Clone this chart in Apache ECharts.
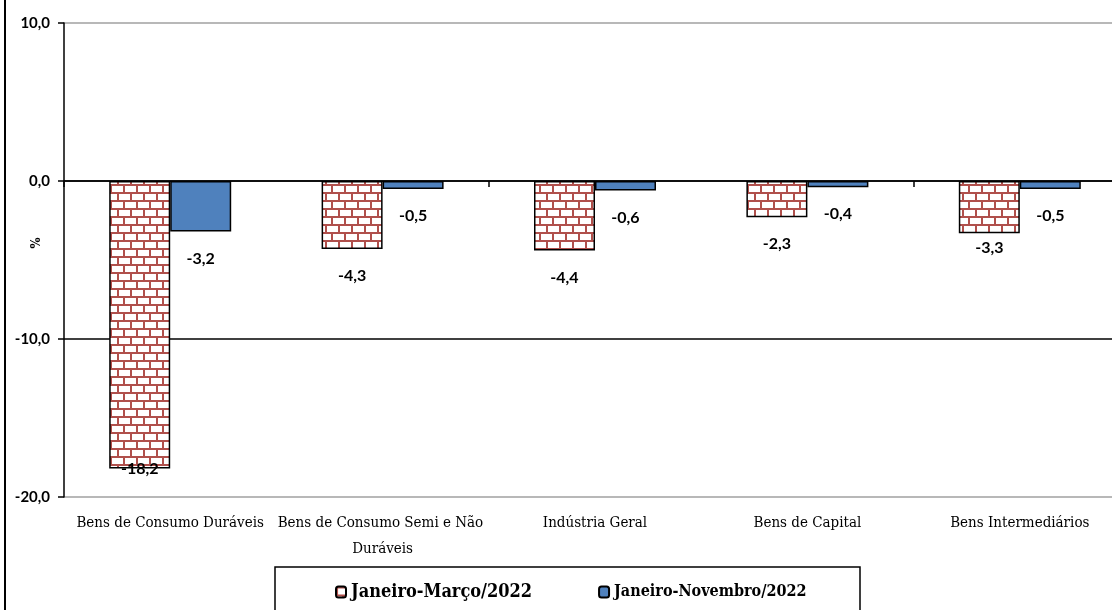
<!DOCTYPE html>
<html>
<head>
<meta charset="utf-8">
<script src="https://cdn.jsdelivr.net/npm/echarts@6/dist/echarts.min.js"></script>
<style>
html,body{margin:0;padding:0;background:#fff;}
#c{width:1112px;height:610px;}
</style>
</head>
<body>
<div id="c"></div>
<script>
// ---- data ----
const categories = ['Bens de Consumo Duráveis', 'Bens de Consumo Semi e Não Duráveis', 'Indústria Geral', 'Bens de Capital', 'Bens Intermediários'];
const seriesNames = ['Janeiro-Março/2022', 'Janeiro-Novembro/2022'];
const janMar = [-18.2, -4.3, -4.4, -2.3, -3.3];
const janNov = [-3.2, -0.5, -0.6, -0.4, -0.5];
const yMin = -20, yMax = 10, yStep = 10;
const yAxisName = '%';

// label vertical nudges (layout only)
const janMarLabelDy = [-27, 0, 0, 0, -12];
const janNovLabelDy = [0, 0, 0, 0, 0];

// brick pattern
function brickPattern() {
  const w = 26, h = 16;
  const cv = document.createElement('canvas');
  cv.width = w; cv.height = h;
  const ctx = cv.getContext('2d');
  ctx.fillStyle = '#ffffff';
  ctx.fillRect(0, 0, w, h);
  ctx.fillStyle = '#b0504c';
  ctx.fillRect(0, 0, w, 2);
  ctx.fillRect(0, 8, w, 2);
  ctx.fillRect(0, 0, 2, 8);
  ctx.fillRect(13, 0, 2, 8);
  ctx.fillRect(6, 8, 2, 8);
  ctx.fillRect(19, 8, 2, 8);
  return cv;
}

const labelFont = 'Lato, "Open Sans", sans-serif';
const catFont = '"DejaVu Serif Condensed", "DejaVu Serif", serif';
const fmt = p => String(p.value.toFixed ? p.value.toFixed(1) : p.value).replace('.', ',');

const chart = echarts.init(document.getElementById('c'), null, {renderer: 'canvas'});
chart.setOption({
  backgroundColor: '#ffffff',
  animation: false,
  grid: {left: 64, top: 23, width: 1062, height: 474, containLabel: false, outerBoundsMode: 'none'},
  legend: {
    data: seriesNames,
    left: 330, top: 578,
    itemWidth: 10, itemHeight: 11, itemGap: 66,
    formatter: n => (n === seriesNames[0] ? '{a|' + n + '}' : '{b|' + n + '}'),
    textStyle: {
      rich: {
        a: {fontFamily: catFont, fontWeight: 'bold', fontSize: 18, color: '#000'},
        b: {fontFamily: catFont, fontWeight: 'bold', fontSize: 16, color: '#000'}
      }
    }
  },
  xAxis: [
    {
      type: 'category', data: categories,
      axisLine: {onZero: true, lineStyle: {color: '#000', width: 1.5}},
      axisTick: {show: true, length: 6, lineStyle: {color: '#000', width: 1.5}},
      axisLabel: {show: false},
      splitLine: {show: false}
    },
    {
      type: 'category', data: categories, position: 'bottom',
      axisLine: {show: false, onZero: false},
      axisTick: {show: false},
      axisLabel: {
        show: true, interval: 0, margin: 13,
        fontFamily: catFont, fontSize: 15, color: '#000', lineHeight: 26,
        width: 226, overflow: 'break'
      },
      splitLine: {show: false}
    }
  ],
  yAxis: {
    type: 'value', min: yMin, max: yMax, interval: yStep,
    axisLine: {show: true, lineStyle: {color: '#000', width: 1.5}},
    axisTick: {show: true, length: 6, lineStyle: {color: '#000', width: 1.5}},
    axisLabel: {
      margin: 14, fontFamily: labelFont, fontWeight: 'bold', fontSize: 15, color: '#000',
      formatter: v => v.toFixed(1).replace('.', ',')
    },
    splitLine: {show: true, lineStyle: {color: ['#a0a0a0', '#000', '#000', '#a0a0a0'], width: 1.5}}
  },
  series: [
    {
      name: seriesNames[0], type: 'bar', xAxisIndex: 0,
      barWidth: 61, barGap: '0%',
      data: janMar.map((v, i) => ({value: v, label: {offset: [0, janMarLabelDy[i]]}})),
      itemStyle: {color: {image: brickPattern(), repeat: 'repeat'}, borderColor: '#000', borderWidth: 1.5},
      label: {show: true, position: 'bottom', distance: 19, formatter: fmt,
        fontFamily: labelFont, fontWeight: 'bold', fontSize: 16, color: '#000'}
    },
    {
      name: seriesNames[1], type: 'bar', xAxisIndex: 0,
      barWidth: 61, barGap: '0%',
      data: janNov.map((v, i) => ({value: v, label: {offset: [0, janNovLabelDy[i]]}})),
      itemStyle: {color: '#4f81bd', borderColor: '#000', borderWidth: 1.5},
      label: {show: true, position: 'bottom', distance: 19, formatter: fmt,
        fontFamily: labelFont, fontWeight: 'bold', fontSize: 16, color: '#000'}
    }
  ],
  graphic: [
    {type: 'line', shape: {x1: 5, y1: 0, x2: 5, y2: 610}, style: {stroke: '#000', lineWidth: 2}},
    {type: 'rect', shape: {x: 275, y: 567, width: 585, height: 46},
      style: {fill: 'none', stroke: '#000', lineWidth: 1.5}, z: 10},
    {type: 'text', x: 37, y: 243, rotation: Math.PI / 2,
      style: {text: yAxisName, font: 'bold 13px ' + catFont, fill: '#000', align: 'center', verticalAlign: 'middle'}}
  ]
});
</script>
</body>
</html>
